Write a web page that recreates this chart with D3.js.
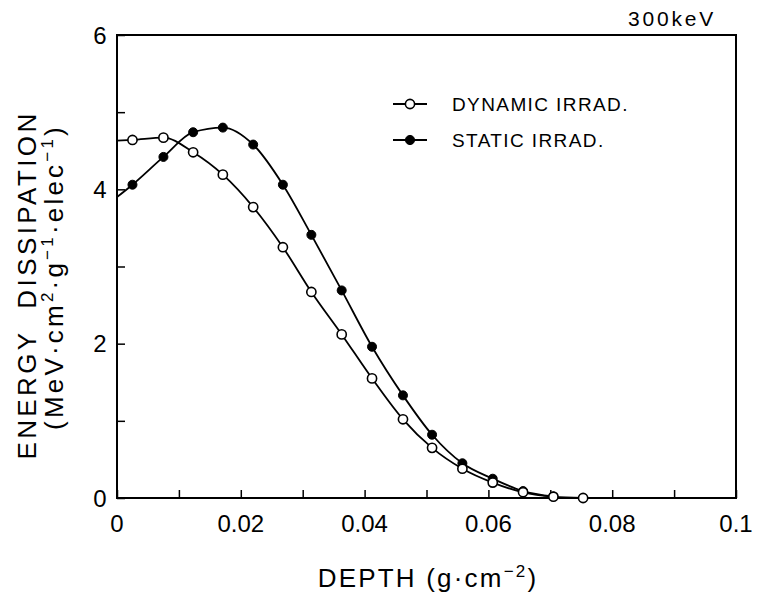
<!DOCTYPE html>
<html>
<head>
<meta charset="utf-8">
<script src="https://cdn.jsdelivr.net/npm/d3@7"></script>
<style>
  html, body { margin: 0; padding: 0; background: #fff; }
  svg { display: block; font-family: "Liberation Sans", Arial, sans-serif; }
</style>
</head>
<body>
<svg id="chart" width="757" height="595"></svg>
<script>
// ---- data ----
const depthDynamic = [0, 0.0025, 0.0075, 0.0123, 0.0171, 0.0220, 0.0268, 0.0314, 0.0363, 0.0412, 0.0462, 0.0509, 0.0558, 0.0607, 0.0656, 0.0705, 0.0753];
const dynamicIrrad = [4.63, 4.64, 4.67, 4.48, 4.19, 3.77, 3.25, 2.67, 2.12, 1.55, 1.02, 0.65, 0.38, 0.20, 0.074, 0.017, 0.0];
const depthStatic  = [0, 0.0025, 0.0075, 0.0123, 0.0171, 0.0220, 0.0268, 0.0314, 0.0363, 0.0412, 0.0462, 0.0509, 0.0558, 0.0607, 0.0656, 0.0705];
const staticIrrad  = [3.90, 4.06, 4.42, 4.74, 4.80, 4.58, 4.06, 3.41, 2.69, 1.96, 1.33, 0.82, 0.45, 0.25, 0.09, 0.02];
const xTickLabels = [0, 0.02, 0.04, 0.06, 0.08, 0.1];
const yTickLabels = [0, 2, 4, 6];
const legendLabels = ["DYNAMIC IRRAD.", "STATIC IRRAD."];

// ---- layout ----
const svg = d3.select("#chart");
const L = 117, R = 736, T = 35, B = 498;
const x = d3.scaleLinear().domain([0, 0.1]).range([L, R]);
const y = d3.scaleLinear().domain([0, 6]).range([B, T]);

// frame
svg.append("rect").attr("x", L).attr("y", T).attr("width", R - L).attr("height", B - T)
  .attr("fill", "none").attr("stroke", "#000").attr("stroke-width", 2);

// inward ticks
const xAxis = d3.axisTop(x).tickValues(d3.range(0, 11).map(i => i / 100)).tickSize(8).tickFormat("");
const gx = svg.append("g").attr("transform", `translate(0,${B})`).call(xAxis);
gx.select(".domain").remove();
gx.selectAll("line").attr("stroke-width", 1.5);

const yAxis = d3.axisRight(y).tickValues(d3.range(0, 7)).tickSize(8).tickFormat("");
const gy = svg.append("g").attr("transform", `translate(${L},0)`).call(yAxis);
gy.select(".domain").remove();
gy.selectAll("line").attr("stroke-width", 1.5);

// tick labels
svg.append("g").selectAll("text").data(xTickLabels).join("text")
  .attr("x", d => x(d)).attr("y", 532)
  .attr("text-anchor", "middle").attr("font-size", 24).text(d => d === 0 ? "0" : String(d));
svg.append("g").selectAll("text").data(yTickLabels).join("text")
  .attr("x", 100).attr("y", d => y(d) + 8.5)
  .attr("text-anchor", "middle").attr("font-size", 24).text(d => String(d));

// axis titles
const xt = svg.append("text").attr("x", 428).attr("y", 587).attr("text-anchor", "middle")
  .attr("font-size", 26).attr("letter-spacing", 2.2);
xt.append("tspan").text("DEPTH (g·cm");
xt.append("tspan").attr("dy", -10).attr("font-size", 17).text("−2");
xt.append("tspan").attr("dy", 10).text(")");

svg.append("text").attr("transform", "translate(36,285) rotate(-90)")
  .attr("text-anchor", "middle").attr("font-size", 26).attr("letter-spacing", 3.4)
  .attr("xml:space", "preserve")
  .text("ENERGY  DISSIPATION");
const yt2 = svg.append("text").attr("transform", "translate(63,277) rotate(-90)")
  .attr("text-anchor", "middle").attr("font-size", 26).attr("letter-spacing", 3.2);
yt2.append("tspan").text("(MeV·cm");
yt2.append("tspan").attr("dy", -10).attr("font-size", 17).text("2");
yt2.append("tspan").attr("dy", 10).text("·g");
yt2.append("tspan").attr("dy", -10).attr("font-size", 17).text("−1");
yt2.append("tspan").attr("dy", 10).text("·elec");
yt2.append("tspan").attr("dy", -10).attr("font-size", 17).text("−1");
yt2.append("tspan").attr("dy", 10).text(")");

// energy label
svg.append("text").attr("x", 628).attr("y", 26).attr("text-anchor", "start")
  .attr("font-size", 21).attr("letter-spacing", 2.8).text("300keV");

// curves
const line = d3.line().x(d => x(d[0])).y(d => y(d[1])).curve(d3.curveMonotoneX);
const dynPts = depthDynamic.map((d, i) => [d, dynamicIrrad[i]]);
const staPts = depthStatic.map((d, i) => [d, staticIrrad[i]]);

svg.append("path").datum(staPts).attr("d", line).attr("fill", "none").attr("stroke", "#000").attr("stroke-width", 1.8);
svg.append("path").datum(dynPts).attr("d", line).attr("fill", "none").attr("stroke", "#000").attr("stroke-width", 1.8);

svg.append("g").selectAll("circle").data(staPts.slice(1)).join("circle")
  .attr("cx", d => x(d[0])).attr("cy", d => y(d[1])).attr("r", 4.5)
  .attr("fill", "#000").attr("stroke", "#000").attr("stroke-width", 1);
svg.append("g").selectAll("circle").data(dynPts.slice(1)).join("circle")
  .attr("cx", d => x(d[0])).attr("cy", d => y(d[1])).attr("r", 4.6)
  .attr("fill", "#fff").attr("stroke", "#000").attr("stroke-width", 1.6);

// legend
const legY = [104, 140];
legendLabels.forEach((lab, i) => {
  svg.append("line").attr("x1", 393).attr("x2", 427).attr("y1", legY[i]).attr("y2", legY[i])
    .attr("stroke", "#000").attr("stroke-width", 1.8);
  svg.append("circle").attr("cx", 410).attr("cy", legY[i]).attr("r", 4.6)
    .attr("fill", i === 0 ? "#fff" : "#000").attr("stroke", "#000").attr("stroke-width", i === 0 ? 1.6 : 1);
  svg.append("text").attr("x", 452).attr("y", legY[i] + 7).attr("font-size", 19)
    .attr("letter-spacing", 1.4).text(lab);
});
</script>
</body>
</html>
